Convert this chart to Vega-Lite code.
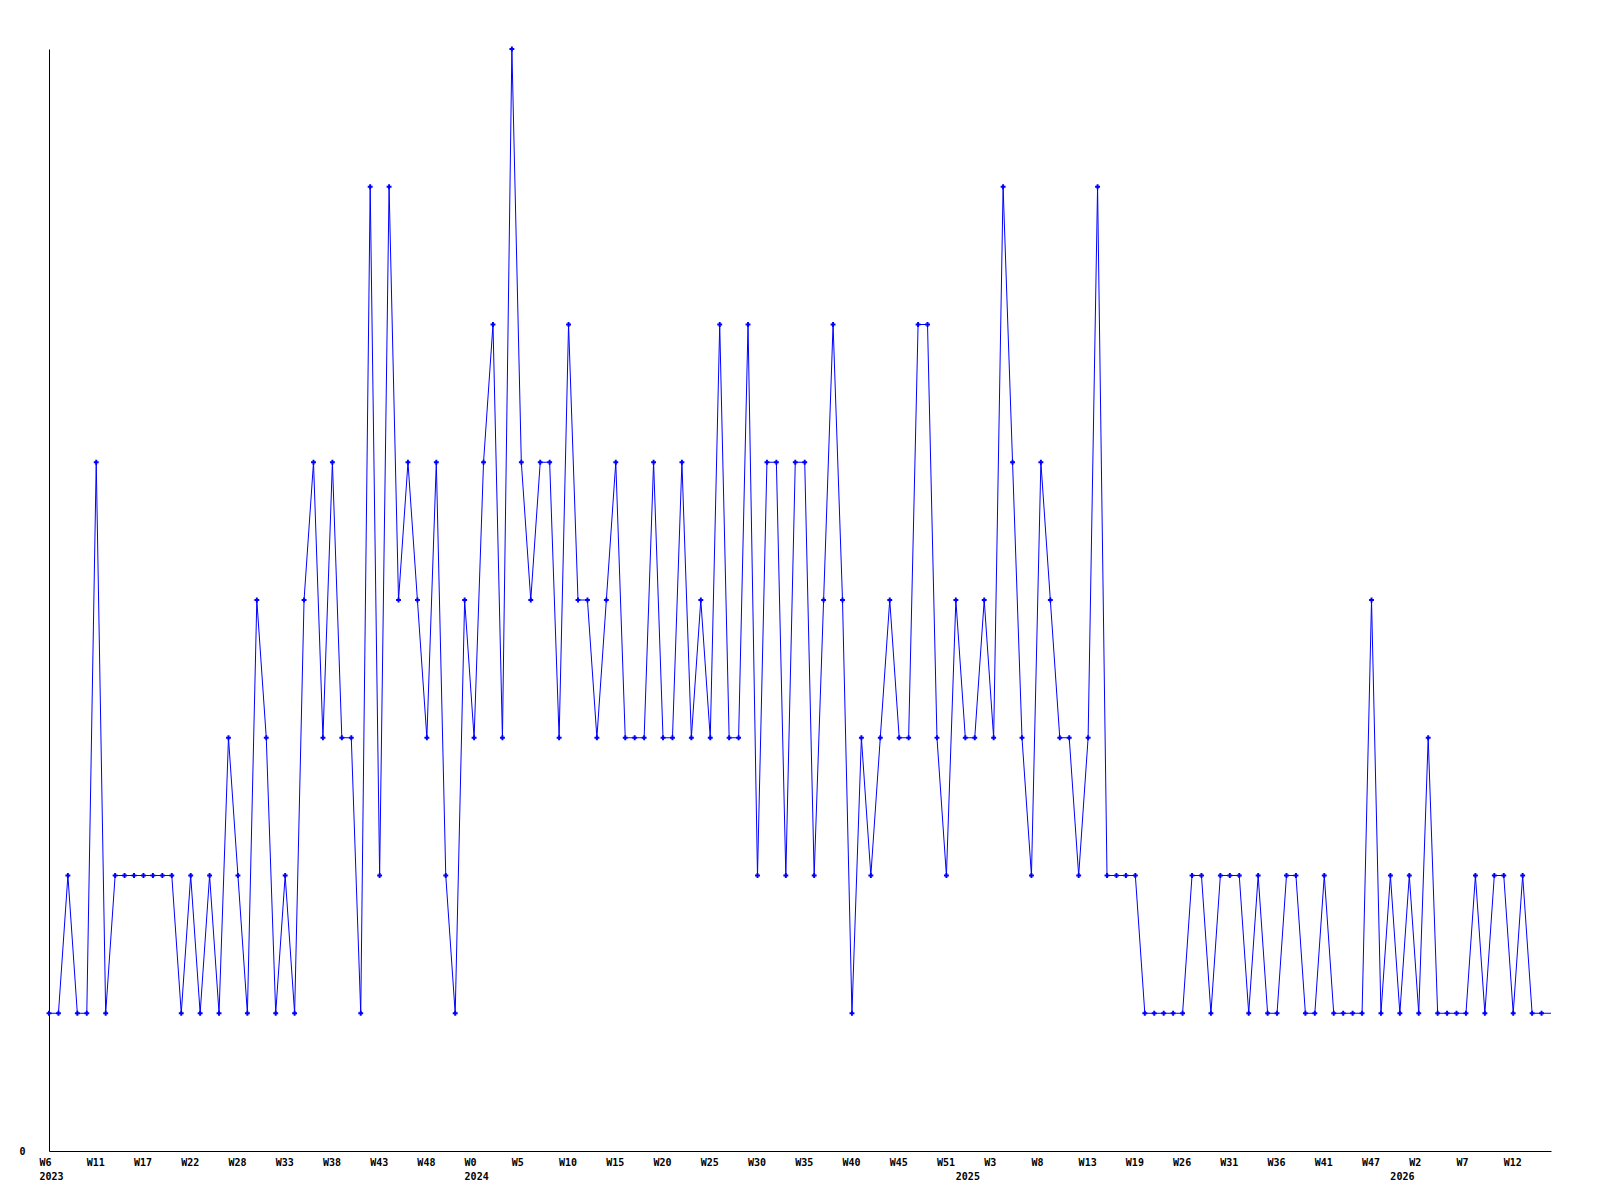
{
  "$schema": "https://vega.github.io/schema/vega-lite/v6.json",
  "width": 1502,
  "height": 1102,
  "autosize": {"type": "none"},
  "padding": {"left": 49, "top": 49, "right": 49, "bottom": 49},
  "background": "white",
  "config": {
    "view": {"stroke": null},
    "axis": {
      "labelFont": "DejaVu Sans Mono",
      "labelFontWeight": "bold",
      "labelFontSize": 10,
      "labelColor": "black",
      "domainColor": "black",
      "domainWidth": 1,
      "ticks": false,
      "grid": false,
      "title": null
    }
  },
  "data": {"values": [
    {"w":"2023-W06","v":1},{"w":"2023-W07","v":1},{"w":"2023-W08","v":2},{"w":"2023-W09","v":1},{"w":"2023-W10","v":1},
    {"w":"2023-W11","v":5},{"w":"2023-W12","v":1},{"w":"2023-W13","v":2},{"w":"2023-W14","v":2},{"w":"2023-W15","v":2},
    {"w":"2023-W17","v":2},{"w":"2023-W18","v":2},{"w":"2023-W19","v":2},{"w":"2023-W20","v":2},{"w":"2023-W21","v":1},
    {"w":"2023-W22","v":2},{"w":"2023-W23","v":1},{"w":"2023-W24","v":2},{"w":"2023-W25","v":1},{"w":"2023-W26","v":3},
    {"w":"2023-W28","v":2},{"w":"2023-W29","v":1},{"w":"2023-W30","v":4},{"w":"2023-W31","v":3},{"w":"2023-W32","v":1},
    {"w":"2023-W33","v":2},{"w":"2023-W34","v":1},{"w":"2023-W35","v":4},{"w":"2023-W36","v":5},{"w":"2023-W37","v":3},
    {"w":"2023-W38","v":5},{"w":"2023-W39","v":3},{"w":"2023-W40","v":3},{"w":"2023-W41","v":1},{"w":"2023-W42","v":7},
    {"w":"2023-W43","v":2},{"w":"2023-W44","v":7},{"w":"2023-W45","v":4},{"w":"2023-W46","v":5},{"w":"2023-W47","v":4},
    {"w":"2023-W48","v":3},{"w":"2023-W49","v":5},{"w":"2023-W50","v":2},{"w":"2023-W51","v":1},{"w":"2023-W52","v":4},
    {"w":"2024-W00","v":3},{"w":"2024-W01","v":5},{"w":"2024-W02","v":6},{"w":"2024-W03","v":3},{"w":"2024-W04","v":8},
    {"w":"2024-W05","v":5},{"w":"2024-W06","v":4},{"w":"2024-W07","v":5},{"w":"2024-W08","v":5},{"w":"2024-W09","v":3},
    {"w":"2024-W10","v":6},{"w":"2024-W11","v":4},{"w":"2024-W12","v":4},{"w":"2024-W13","v":3},{"w":"2024-W14","v":4},
    {"w":"2024-W15","v":5},{"w":"2024-W16","v":3},{"w":"2024-W17","v":3},{"w":"2024-W18","v":3},{"w":"2024-W19","v":5},
    {"w":"2024-W20","v":3},{"w":"2024-W21","v":3},{"w":"2024-W22","v":5},{"w":"2024-W23","v":3},{"w":"2024-W24","v":4},
    {"w":"2024-W25","v":3},{"w":"2024-W26","v":6},{"w":"2024-W27","v":3},{"w":"2024-W28","v":3},{"w":"2024-W29","v":6},
    {"w":"2024-W30","v":2},{"w":"2024-W31","v":5},{"w":"2024-W32","v":5},{"w":"2024-W33","v":2},{"w":"2024-W34","v":5},
    {"w":"2024-W35","v":5},{"w":"2024-W36","v":2},{"w":"2024-W37","v":4},{"w":"2024-W38","v":6},{"w":"2024-W39","v":4},
    {"w":"2024-W40","v":1},{"w":"2024-W41","v":3},{"w":"2024-W42","v":2},{"w":"2024-W43","v":3},{"w":"2024-W44","v":4},
    {"w":"2024-W45","v":3},{"w":"2024-W46","v":3},{"w":"2024-W47","v":6},{"w":"2024-W48","v":6},{"w":"2024-W49","v":3},
    {"w":"2024-W51","v":2},{"w":"2024-W52","v":4},{"w":"2025-W00","v":3},{"w":"2025-W01","v":3},{"w":"2025-W02","v":4},
    {"w":"2025-W03","v":3},{"w":"2025-W04","v":7},{"w":"2025-W05","v":5},{"w":"2025-W06","v":3},{"w":"2025-W07","v":2},
    {"w":"2025-W08","v":5},{"w":"2025-W09","v":4},{"w":"2025-W10","v":3},{"w":"2025-W11","v":3},{"w":"2025-W12","v":2},
    {"w":"2025-W13","v":3},{"w":"2025-W14","v":7},{"w":"2025-W15","v":2},{"w":"2025-W16","v":2},{"w":"2025-W17","v":2},
    {"w":"2025-W19","v":2},{"w":"2025-W20","v":1},{"w":"2025-W21","v":1},{"w":"2025-W22","v":1},{"w":"2025-W23","v":1},
    {"w":"2025-W26","v":1},{"w":"2025-W27","v":2},{"w":"2025-W28","v":2},{"w":"2025-W29","v":1},{"w":"2025-W30","v":2},
    {"w":"2025-W31","v":2},{"w":"2025-W32","v":2},{"w":"2025-W33","v":1},{"w":"2025-W34","v":2},{"w":"2025-W35","v":1},
    {"w":"2025-W36","v":1},{"w":"2025-W37","v":2},{"w":"2025-W38","v":2},{"w":"2025-W39","v":1},{"w":"2025-W40","v":1},
    {"w":"2025-W41","v":2},{"w":"2025-W42","v":1},{"w":"2025-W43","v":1},{"w":"2025-W44","v":1},{"w":"2025-W45","v":1},
    {"w":"2025-W47","v":4},{"w":"2025-W49","v":1},{"w":"2025-W51","v":2},{"w":"2026-W00","v":1},{"w":"2026-W01","v":2},
    {"w":"2026-W02","v":1},{"w":"2026-W03","v":3},{"w":"2026-W04","v":1},{"w":"2026-W05","v":1},{"w":"2026-W06","v":1},
    {"w":"2026-W07","v":1},{"w":"2026-W08","v":2},{"w":"2026-W09","v":1},{"w":"2026-W10","v":2},{"w":"2026-W11","v":2},
    {"w":"2026-W12","v":1},{"w":"2026-W13","v":2},{"w":"2026-W14","v":1},{"w":"2026-W15","v":1},{"w":"2026-W16","v":1}
  ]},
  "encoding": {
    "y": {
      "field": "v",
      "type": "quantitative",
      "scale": {"domain": [0, 8], "nice": false},
      "axis": {"values": [0], "format": "d", "labelPadding": 24, "labelBaseline": "middle"}
    }
  },
  "resolve": {"scale": {"x": "shared", "y": "shared"}, "axis": {"x": "independent", "y": "shared"}},
  "layer": [
    {
      "mark": {"type": "line", "color": "#0000ff", "strokeWidth": 1},
      "encoding": {
        "x": {
          "field": "w",
          "type": "ordinal",
          "sort": null,
          "scale": {"padding": 0},
          "axis": {
            "orient": "bottom",
            "values": ["2023-W06","2023-W11","2023-W17","2023-W22","2023-W28","2023-W33","2023-W38","2023-W43","2023-W48","2024-W00","2024-W05","2024-W10","2024-W15","2024-W20","2024-W25","2024-W30","2024-W35","2024-W40","2024-W45","2024-W51","2025-W03","2025-W08","2025-W13","2025-W19","2025-W26","2025-W31","2025-W36","2025-W41","2025-W47","2026-W02","2026-W07","2026-W12"],
            "labelExpr": "'W' + toNumber(substring(datum.value, 6))",
            "labelAngle": 0,
            "labelAlign": "left",
            "labelOffset": -10,
            "labelBaseline": "top",
            "labelPadding": 6,
            "labelOverlap": false,
            "labelBound": false
          }
        }
      }
    },
    {
      "transform": [{"filter": "datum.w != '2026-W16'"}],
      "mark": {"type": "point", "shape": "cross", "filled": true, "color": "#0000ff", "size": 24, "opacity": 1},
      "encoding": {
        "x": {
          "field": "w",
          "type": "ordinal",
          "sort": null,
          "scale": {"padding": 0},
          "axis": {
            "orient": "bottom",
            "domain": false,
            "values": ["2023-W06","2024-W00","2025-W00","2026-W00"],
            "labelExpr": "substring(datum.value, 0, 4)",
            "labelAngle": 0,
            "labelAlign": "left",
            "labelOffset": -10,
            "labelBaseline": "top",
            "labelPadding": 20,
            "labelOverlap": false,
            "labelBound": false
          }
        }
      }
    }
  ]
}
